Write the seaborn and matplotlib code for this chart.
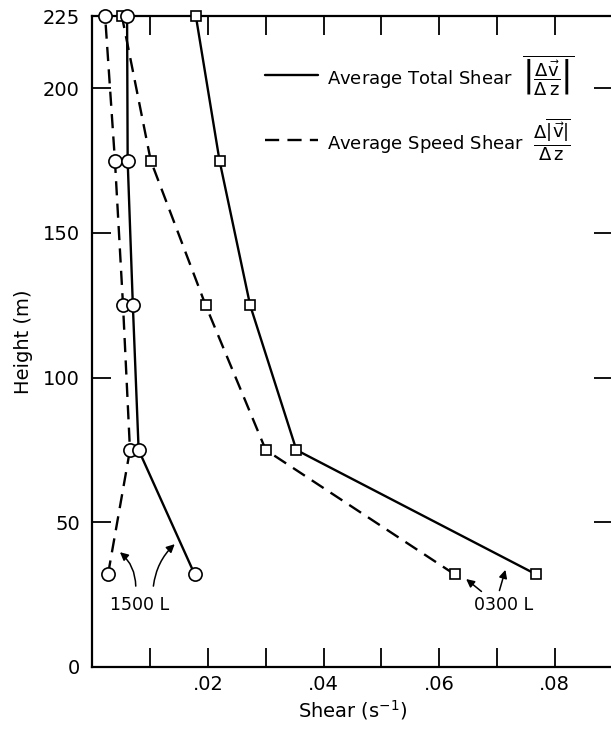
import numpy as np
import pandas as pd
import seaborn as sns
import matplotlib
matplotlib.use("Agg")
import matplotlib.pyplot as plt
from matplotlib.ticker import MultipleLocator, FixedLocator, FuncFormatter

# heights of the observation levels (m)
height = [32, 75, 125, 175, 225]

# 1500 L profiles (circles)
total_1500 = [0.0177, 0.0080, 0.0070, 0.0061, 0.0060]
speed_1500 = [0.0027, 0.0065, 0.0053, 0.0039, 0.0022]
# 0300 L profiles (squares)
total_0300 = [0.0768, 0.0353, 0.0273, 0.0220, 0.0179]
speed_0300 = [0.0627, 0.0300, 0.0196, 0.0101, 0.0051]

x_ticks = [0.02, 0.04, 0.06, 0.08]
y_ticks = [0, 50, 100, 150, 200, 225]

rows = []
for name, vals, kind in [("1500 L", total_1500, "total"),
                         ("1500 L", speed_1500, "speed"),
                         ("0300 L", total_0300, "total"),
                         ("0300 L", speed_0300, "speed")]:
    for h, v in zip(height, vals):
        rows.append(dict(time=name, kind=kind, shear=v, height=h))
df = pd.DataFrame(rows)

sns.set_style("ticks")
plt.rcParams['font.family'] = ['DejaVu Sans']
plt.rcParams['text.color'] = 'black'
plt.rcParams['axes.labelcolor'] = 'black'

fig = plt.figure(figsize=(6.11, 7.35), dpi=100)
ax = fig.add_axes([92.4 / 611, 68 / 735, (612.5 - 92.4) / 611, (667 - 16) / 735])

styles = {"total": (None, "-"), "speed": ((6, 3.5), "--")}
markers = {"1500 L": ("o", 9.5), "0300 L": ("s", 7)}
for (t, k), sub in df.groupby(["time", "kind"]):
    m, ms = markers[t]
    dash, ls = styles[k]
    sns.lineplot(data=sub, x="shear", y="height", sort=False, estimator=None,
                 color="black", lw=1.7, ls=ls, marker=m, ms=ms,
                 mfc="white", mec="black", mew=1.2, ax=ax, zorder=3)
    line = ax.lines[-1]
    if dash is not None:
        line.set_dashes(dash)
    line.set_clip_on(False)

ax.set_xlim(0, 0.09)
ax.set_ylim(0, 225)

ax.xaxis.set_major_locator(FixedLocator(x_ticks))
ax.xaxis.set_minor_locator(MultipleLocator(0.01))
ax.xaxis.set_major_formatter(FuncFormatter(lambda v, p: ("%.2f" % v)[1:]))
ax.yaxis.set_major_locator(FixedLocator(y_ticks))
ax.yaxis.set_minor_locator(FixedLocator([]))

ax.tick_params(which="both", direction="in", length=14, width=1.3,
               top=True, right=True, labelsize=14, pad=6, colors="black")
ax.tick_params(axis="y", pad=9)
for s in ["left", "bottom", "top"]:
    ax.spines[s].set_linewidth(1.6)
    ax.spines[s].set_color("black")
ax.spines["right"].set_visible(False)

ax.set_xlabel("Shear (s$^{-1}$)", fontsize=14, labelpad=3)
ax.set_ylabel("Height (m)", fontsize=14, labelpad=7)

# legend drawn by hand
ax.plot([0.332, 0.434], [0.909, 0.909], color="black", lw=1.7,
        transform=ax.transAxes, clip_on=False)
ax.text(0.451, 0.909, "Average Total Shear  "
        r"$\overline{\left|\dfrac{\Delta\vec{\mathrm{v}}}{\Delta\,\mathrm{z}}\right|}$",
        transform=ax.transAxes, fontsize=13, va="center", ha="left")
ld, = ax.plot([0.332, 0.434], [0.810, 0.810], color="black", lw=1.7, ls="--",
              transform=ax.transAxes, clip_on=False)
ld.set_dashes((6, 3.5))
ax.text(0.451, 0.810, "Average Speed Shear  "
        r"$\dfrac{\Delta\overline{|\vec{\mathrm{v}}|}}{\Delta\,\mathrm{z}}$",
        transform=ax.transAxes, fontsize=13, va="center", ha="left")

# annotations
arr = dict(arrowstyle="-|>", color="black", lw=1.1, mutation_scale=12)
ax.text(0.0082, 21.5, "1500 L", fontsize=12.5, ha="center", va="center")
ax.annotate("", xy=(0.0044, 40.3), xytext=(0.0075, 27.0),
            arrowprops=dict(arr, connectionstyle="arc3,rad=0.25"))
ax.annotate("", xy=(0.0146, 43.1), xytext=(0.0105, 27.0),
            arrowprops=dict(arr, connectionstyle="arc3,rad=-0.2"))
ax.text(0.0711, 21.5, "0300 L", fontsize=12.5, ha="center", va="center")
ax.annotate("", xy=(0.0643, 31.0), xytext=(0.0677, 25.5), arrowprops=arr)
ax.annotate("", xy=(0.0716, 34.5), xytext=(0.0703, 25.5), arrowprops=arr)

fig.savefig("out.png", dpi=100)
